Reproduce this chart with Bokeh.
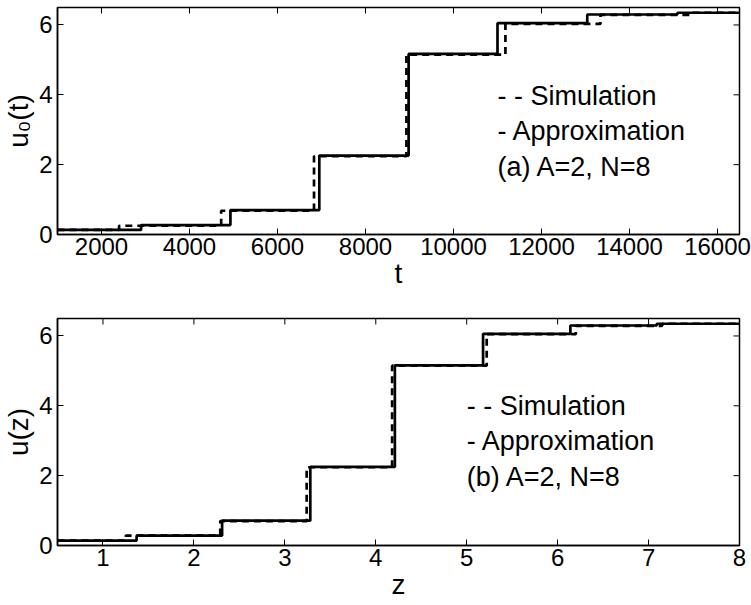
from bokeh.plotting import figure
from bokeh.models import FixedTicker, Label, Range1d
from bokeh.layouts import column
from bokeh.embed import file_html
from bokeh.resources import INLINE

# ---------------- data ----------------
# panel (a): u_0(t) versus t
t_sim = [1000, 2400, 4720, 6830, 8930, 11180, 13340, 15390, 16500]
u0_sim = [0.13, 0.25, 0.68, 2.24, 5.15, 6.03, 6.29, 6.35, 6.36]
t_app = [1000, 2900, 4930, 6950, 8980, 11000, 13040, 15090, 16500]
u0_app = [0.13, 0.27, 0.70, 2.26, 5.17, 6.05, 6.30, 6.35, 6.36]

# panel (b): u(z) versus z
z_sim = [0.5, 1.25, 2.29, 3.24, 4.18, 5.22, 6.20, 7.15, 8.0]
uz_sim = [0.14, 0.28, 0.70, 2.24, 5.15, 6.05, 6.29, 6.35, 6.36]
z_app = [0.5, 1.37, 2.31, 3.28, 4.21, 5.18, 6.14, 7.09, 8.0]
uz_app = [0.14, 0.28, 0.71, 2.25, 5.16, 6.06, 6.30, 6.35, 6.36]

t_ticks = [2000, 4000, 6000, 8000, 10000, 12000, 14000, 16000]
z_ticks = [1, 2, 3, 4, 5, 6, 7, 8]
u_ticks = [0, 2, 4, 6]

legend_lines_a = ["- - Simulation", "- Approximation", "(a) A=2, N=8"]
legend_lines_b = ["- - Simulation", "- Approximation", "(b) A=2, N=8"]

FONT = "Liberation Sans"
TICK_FS = "24px"
LABEL_FS = "28px"
TEXT_FS = "27px"
FRAME_W = 682
FRAME_H = 227
TICK_LEN = 6


def style(p, xticks, yticks, x0, x1, y0, y1):
    p.xgrid.visible = False
    p.ygrid.visible = False
    p.outline_line_color = "black"
    p.outline_line_width = 1.5
    p.background_fill_color = "white"
    p.border_fill_color = "white"
    xa = p.below[0]
    ya = p.left[0]
    for ax in (xa, ya):
        ax.axis_line_color = "black"
        ax.axis_line_width = 1.5
        ax.major_tick_in = TICK_LEN
        ax.major_tick_out = 0
        ax.major_tick_line_color = "black"
        ax.major_tick_line_width = 1
        ax.minor_tick_line_color = None
        ax.major_label_text_font = FONT
        ax.major_label_text_font_size = TICK_FS
        ax.major_label_text_color = "black"
        ax.axis_label_text_font = FONT
        ax.axis_label_text_font_size = LABEL_FS
        ax.axis_label_text_font_style = "normal"
        ax.axis_label_text_color = "black"
    xa.ticker = FixedTicker(ticks=xticks)
    ya.ticker = FixedTicker(ticks=yticks)
    xa.major_label_standoff = 3
    ya.major_label_standoff = 5
    # mirrored (inward) ticks on the top and right frame edges
    dy = TICK_LEN * (y1 - y0) / FRAME_H
    dx = TICK_LEN * (x1 - x0) / FRAME_W
    p.segment(x0=xticks, y0=[y1] * len(xticks), x1=xticks,
              y1=[y1 - dy] * len(xticks), line_color="black", line_width=1)
    p.segment(x0=[x1] * len(yticks), y0=yticks, x1=[x1 - dx] * len(yticks),
              y1=yticks, line_color="black", line_width=1)
    return xa, ya


# ---------------- panel (a) ----------------
p1 = figure(width=751, height=300, output_backend="svg", toolbar_location=None,
            x_range=Range1d(1000, 16500), y_range=Range1d(0, 6.5),
            min_border_left=57, min_border_right=12, min_border_top=7,
            min_border_bottom=66)
xa1, ya1 = style(p1, t_ticks, u_ticks, 1000, 16500, 0, 6.5)
xa1.axis_label = "t"
xa1.axis_label_standoff = 0
ya1.axis_label = "u\u2080(t)"
ya1.axis_label_standoff = 2

p1.step(t_sim, u0_sim, mode="after", line_color="black", line_width=2.7,
        line_dash="7 5")
p1.step(t_app, u0_app, mode="after", line_color="black", line_width=2.7)

for i, txt in enumerate(legend_lines_a):
    p1.add_layout(Label(x=11000, y=3.97 - i * 1.02, text=txt,
                        text_font=FONT, text_font_size=TEXT_FS,
                        text_baseline="middle", text_align="left",
                        text_color="black"))

# ---------------- panel (b) ----------------
p2 = figure(width=751, height=305, output_backend="svg", toolbar_location=None,
            x_range=Range1d(0.5, 8), y_range=Range1d(0, 6.5),
            min_border_left=57, min_border_right=12, min_border_top=18,
            min_border_bottom=60)
xa2, ya2 = style(p2, z_ticks, u_ticks, 0.5, 8, 0, 6.5)
xa2.axis_label = "z"
xa2.axis_label_standoff = 0
ya2.axis_label = "u(z)"
ya2.axis_label_standoff = 2

p2.step(z_sim, uz_sim, mode="after", line_color="black", line_width=2.7,
        line_dash="7 5")
p2.step(z_app, uz_app, mode="after", line_color="black", line_width=2.7)

for i, txt in enumerate(legend_lines_b):
    p2.add_layout(Label(x=5.0, y=4.0 - i * 1.02, text=txt,
                        text_font=FONT, text_font_size=TEXT_FS,
                        text_baseline="middle", text_align="left",
                        text_color="black"))

layout = column(p1, p2, spacing=0)
open("out.html", "w").write(file_html(layout, INLINE))
